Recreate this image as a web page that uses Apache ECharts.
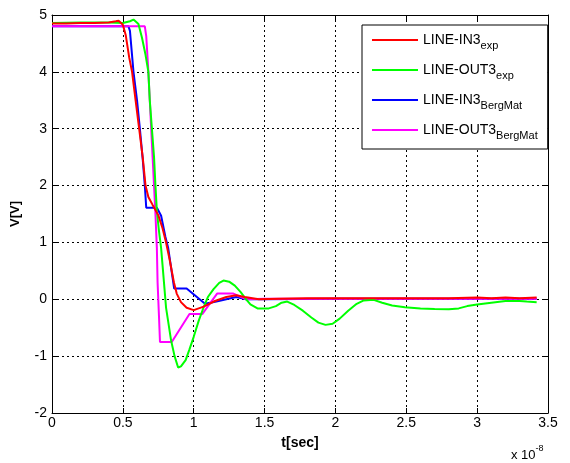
<!DOCTYPE html>
<html>
<head>
<meta charset="utf-8">
<script src="https://cdn.jsdelivr.net/npm/echarts@6/dist/echarts.min.js"></script>
<style>
  html, body { margin: 0; padding: 0; background: #fff; }
  #chart { width: 570px; height: 463px; }
</style>
</head>
<body>
<div id="chart"></div>
<script>
// Time axis in units of 1e-8 s, voltage in V
const xTicks = [0, 0.5, 1, 1.5, 2, 2.5, 3, 3.5];
const yTicks = [-2, -1, 0, 1, 2, 3, 4, 5];

// LINE-IN3 measured
const in3Exp = [
  [0, 4.85], [0.1, 4.85], [0.2, 4.86], [0.3, 4.86], [0.4, 4.87], [0.45, 4.89], [0.47, 4.9],
  [0.5, 4.83], [0.52, 4.65], [0.545, 4.25], [0.565, 4.0], [0.59, 3.5], [0.615, 3.0],
  [0.64, 2.5], [0.66, 2.0], [0.68, 1.8], [0.71, 1.66], [0.75, 1.48], [0.78, 1.25],
  [0.805, 1.0], [0.83, 0.7], [0.86, 0.3], [0.88, 0.1], [0.91, -0.05], [0.95, -0.15],
  [1.0, -0.19], [1.07, -0.13], [1.15, -0.03], [1.23, 0.04], [1.3, 0.07], [1.36, 0.04],
  [1.46, 0.0], [1.6, 0.01], [1.8, 0.02], [2.0, 0.02], [2.2, 0.02], [2.4, 0.02],
  [2.6, 0.02], [2.8, 0.02], [3.0, 0.03], [3.1, 0.02], [3.2, 0.03], [3.3, 0.02], [3.42, 0.03]
];

// LINE-OUT3 measured
const out3Exp = [
  [0, 4.86], [0.2, 4.87], [0.4, 4.87], [0.5, 4.86], [0.55, 4.89], [0.575, 4.92],
  [0.61, 4.84], [0.635, 4.6], [0.66, 4.3], [0.68, 4.0], [0.69, 3.5], [0.705, 3.0],
  [0.72, 2.5], [0.73, 2.0], [0.74, 1.55], [0.755, 1.2], [0.77, 0.9], [0.78, 0.6],
  [0.805, -0.15], [0.84, -0.72], [0.865, -1.0], [0.89, -1.2], [0.91, -1.18],
  [0.943, -1.07], [0.97, -0.88], [1.0, -0.66], [1.035, -0.38], [1.07, -0.14],
  [1.1, 0.04], [1.14, 0.18], [1.18, 0.29], [1.21, 0.33], [1.25, 0.31], [1.29, 0.24],
  [1.33, 0.13], [1.37, 0.0], [1.4, -0.09], [1.45, -0.16], [1.53, -0.16], [1.58, -0.12],
  [1.62, -0.06], [1.66, -0.04], [1.71, -0.1], [1.77, -0.2], [1.83, -0.32], [1.88, -0.41],
  [1.93, -0.45], [1.98, -0.43], [2.03, -0.34], [2.09, -0.2], [2.15, -0.08], [2.2, -0.02],
  [2.27, -0.01], [2.33, -0.06], [2.4, -0.11], [2.49, -0.14], [2.6, -0.16], [2.7, -0.17],
  [2.8, -0.175], [2.87, -0.16], [2.93, -0.12], [3.0, -0.09], [3.1, -0.06], [3.2, -0.03],
  [3.3, -0.03], [3.35, -0.04], [3.42, -0.05]
];

// LINE-IN3 BergMat model
const in3Berg = [
  [0, 4.8], [0.54, 4.8], [0.55, 4.72], [0.575, 4.0], [0.6, 3.5], [0.62, 3.0],
  [0.64, 2.47], [0.655, 2.0], [0.665, 1.61], [0.74, 1.61], [0.77, 1.47], [0.8, 1.1],
  [0.82, 0.9], [0.862, 0.19], [0.95, 0.19], [1.08, -0.08], [1.16, -0.04], [1.23, 0.0],
  [1.3, 0.04], [1.37, 0.0], [1.5, 0.0], [2.0, 0.01], [2.5, 0.01], [3.0, 0.01], [3.42, 0.01]
];

// LINE-OUT3 BergMat model
const out3Berg = [
  [0, 4.8], [0.655, 4.8], [0.665, 4.63], [0.68, 4.0], [0.69, 3.5], [0.7, 3.0],
  [0.71, 2.5], [0.72, 2.0], [0.73, 1.5], [0.74, 0.9], [0.745, 0.3], [0.755, -0.3],
  [0.762, -0.75], [0.845, -0.75], [0.97, -0.26], [1.06, -0.26], [1.165, 0.1],
  [1.28, 0.1], [1.37, 0.0], [1.5, 0.01], [2.0, 0.01], [2.5, 0.01], [3.0, 0.01], [3.42, 0.01]
];

const FONT = "'Liberation Sans', Arial, sans-serif";

const legendRich = {
  m: { fontFamily: FONT, fontSize: 14, color: '#000', lineHeight: 22 },
  s: { fontFamily: FONT, fontSize: 11, color: '#000', lineHeight: 11, verticalAlign: 'bottom' }
};
const legendNames = {
  'LINE-IN3exp': ['LINE-IN3', 'exp'],
  'LINE-OUT3exp': ['LINE-OUT3', 'exp'],
  'LINE-IN3BergMat': ['LINE-IN3', 'BergMat'],
  'LINE-OUT3BergMat': ['LINE-OUT3', 'BergMat']
};

function lineSeries(name, data, color) {
  return {
    name: name, type: 'line', data: data, symbol: 'none', showSymbol: false,
    lineStyle: { color: color, width: 2 }, itemStyle: { color: color },
    animation: false
  };
}

const chart = echarts.init(document.getElementById('chart'), null, { renderer: 'canvas' });

const axisCommon = {
  type: 'value',
  axisLine: { show: true, onZero: false, lineStyle: { color: '#000', width: 1 } },
  axisTick: { show: true, inside: true, length: 5, lineStyle: { color: '#000' } },
  splitLine: { show: false }
};

chart.setOption({
  backgroundColor: '#fff',
  animation: false,
  grid: { left: 52, right: 22, top: 15, bottom: 50 },
  xAxis: [
    Object.assign({}, axisCommon, {
      min: xTicks[0], max: xTicks[xTicks.length - 1], interval: 0.5,
      position: 'bottom',
      name: 't[sec]', nameLocation: 'middle', nameGap: 23,
      nameTextStyle: { fontFamily: FONT, fontSize: 14, fontWeight: 'bold', color: '#000' },
      axisLabel: { fontFamily: FONT, fontSize: 14, color: '#000', margin: 3 },
      splitLine: { show: true, lineStyle: { color: '#000', type: [2, 3], width: 1 } }
    }),
    Object.assign({}, axisCommon, {
      min: xTicks[0], max: xTicks[xTicks.length - 1], interval: 0.5,
      position: 'top', axisLabel: { show: false }
    })
  ],
  yAxis: [
    Object.assign({}, axisCommon, {
      min: yTicks[0], max: yTicks[yTicks.length - 1], interval: 1,
      position: 'left',
      name: 'V[V]', nameLocation: 'middle', nameGap: 30,
      nameTextStyle: { fontFamily: FONT, fontSize: 13, fontWeight: 'bold', color: '#000' },
      axisLabel: { fontFamily: FONT, fontSize: 14, color: '#000', margin: 5 },
      splitLine: { show: true, lineStyle: { color: '#000', type: [2, 3], width: 1 } }
    }),
    Object.assign({}, axisCommon, {
      min: yTicks[0], max: yTicks[yTicks.length - 1], interval: 1,
      position: 'right', axisLabel: { show: false }
    })
  ],
  legend: {
    data: ['LINE-IN3exp', 'LINE-OUT3exp', 'LINE-IN3BergMat', 'LINE-OUT3BergMat'],
    orient: 'vertical',
    left: 362, top: 25,
    padding: [8, 10, 8, 10],
    itemGap: 12,
    icon: 'rect',
    itemWidth: 46, itemHeight: 2,
    backgroundColor: '#fff',
    borderColor: '#000', borderWidth: 1,
    borderRadius: 0,
    selectedMode: false,
    formatter: function (name) {
      const p = legendNames[name];
      return '{m|' + p[0] + '}{s|' + p[1] + '}';
    },
    textStyle: { rich: legendRich }
  },
  graphic: [
    {
      type: 'text', left: 511, top: 444,
      style: {
        text: '{a|x 10}{b|-8}',
        rich: {
          a: { fontFamily: FONT, fontSize: 13, color: '#000', lineHeight: 18, verticalAlign: 'bottom' },
          b: { fontFamily: FONT, fontSize: 9, color: '#000', lineHeight: 9, verticalAlign: 'top' }
        }
      }
    }
  ],
  series: [
    lineSeries('LINE-IN3BergMat', in3Berg, '#0000ff'),
    lineSeries('LINE-OUT3BergMat', out3Berg, '#ff00ff'),
    lineSeries('LINE-OUT3exp', out3Exp, '#00ff00'),
    lineSeries('LINE-IN3exp', in3Exp, '#ff0000')
  ]
});
</script>
</body>
</html>
